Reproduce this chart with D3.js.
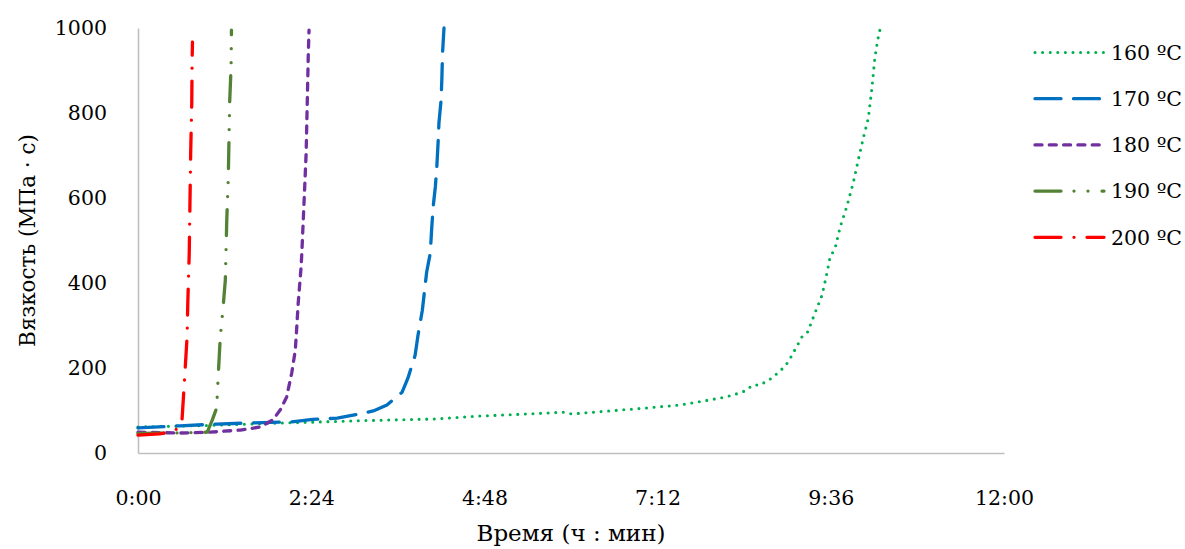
<!DOCTYPE html>
<html><head><meta charset="utf-8">
<script src="https://cdn.jsdelivr.net/npm/d3@7"></script>
<style>body{margin:0;background:#fff}svg text{font-family:"DejaVu Serif",serif;fill:#000}</style>
</head><body><svg id="c" width="1185" height="549"></svg>
<script>
// time in hours, viscosity in mPa·s
const seriesNames = ["160 ºC","170 ºC","180 ºC","190 ºC","200 ºC"];
const t160 = [0,1.0,2.1,3.08,4.09,4.74,5.29,5.78,5.89,6.01,6.54,7.05,7.51,7.79,8.06,8.24,8.41,8.52,8.62,8.76,8.90,9.01,9.10,9.20,9.28,9.38,9.48,9.55,9.59,9.66,9.73,9.82,9.91,9.98,10.05,10.12,10.17,10.21,10.25,10.28];
const v160 = [61,65,71,76,80,87,91,95,96,92,99,106,113,121,129,136,146,160,160,174,193,214,242,273,285,329,372,426,461,482,532,579,635,689,741,788,859,929,972,995];
const t170 = [0,0.58,1.09,1.59,2.11,2.42,2.76,2.98,3.26,3.45,3.66,3.74,3.84,3.88,3.94,4.00,4.05,4.07,4.09,4.12,4.14,4.16,4.17,4.20,4.21,4.22,4.24];
const v170 = [59,64,68,71,73,79,82,89,99,113,143,176,230,277,336,426,470,529,579,626,671,736,776,831,878,941,1000];
const t180 = [0,0.58,1.0,1.42,1.69,1.87,1.97,2.06,2.13,2.18,2.20,2.22,2.26,2.27,2.29,2.31,2.33,2.34,2.35,2.36,2.37];
const v180 = [49,47,49,54,61,78,101,132,188,242,296,353,438,470,548,626,706,784,861,941,995];
const t190 = [0,0.5,0.96,1.03,1.09,1.11,1.14,1.18,1.21,1.22,1.23,1.25,1.26,1.27,1.29,1.295];
const v190 = [46,47,49,78,106,176,273,344,407,478,548,642,729,824,909,995];
const t200 = [0,0.3,0.45,0.58,0.61,0.63,0.68,0.69,0.71,0.72,0.73,0.745,0.75,0.755];
const v200 = [42,45,49,60,78,132,273,353,470,588,706,824,925,967];
const xTicks = [0,2.4,4.8,7.2,9.6,12];
const yTicks = [0,200,400,600,800,1000];
const xTitle = "Время (ч : мин)";
const yTitle = "Вязкость (МПа · с)";

const colors = ["#00B050","#0070C0","#7030A0","#548235","#FF0000"];
const dashes = ["0,7.6","26,12.5","7,7.3","26,13,0,14,0,14","26,13,0,13"];
const widths = [3.1,3.3,3.3,3.3,3.3];
const data = [[t160,v160],[t170,v170],[t180,v180],[t190,v190],[t200,v200]].map(([t,v])=>t.map((d,i)=>[d,v[i]]));

const svg = d3.select("#c");
const L=138,R=1004,T=28,B=453;
const x = d3.scaleLinear().domain([0,12]).range([L,R]);
const y = d3.scaleLinear().domain([0,1000]).range([B,T]);
const fmt = h => { const m=Math.round(h*60); return Math.floor(m/60)+":"+String(m%60).padStart(2,"0"); };

const fs = "20.5px";
// axes
const xa = svg.append("g").attr("transform",`translate(0,${B})`)
  .call(d3.axisBottom(x).tickValues(xTicks).tickFormat(fmt).tickSize(0).tickPadding(52));
const ya = svg.append("g").attr("transform",`translate(${L},0)`)
  .call(d3.axisLeft(y).tickValues(yTicks).tickFormat(d3.format("d")).tickSize(0).tickPadding(31));
[xa,ya].forEach(a=>{
  a.select(".domain").attr("stroke","#BFBFBF").attr("stroke-width",1.6);
  a.selectAll("text").style("font-size",fs).style("font-family","DejaVu Serif").attr("fill","#000");
});
xa.selectAll("text").attr("dy","0");

const line = d3.line().x(d=>x(d[0])).y(d=>y(d[1]));
data.forEach((d,i)=>{
  svg.append("path").datum(d).attr("d",line).attr("fill","none")
    .attr("stroke",colors[i]).attr("stroke-width",widths[i])
    .attr("stroke-dasharray",dashes[i]).attr("stroke-linecap","round").attr("stroke-linejoin","round");
});

// titles
svg.append("text").attr("x",(L+R)/2).attr("y",541).attr("text-anchor","middle").style("font-size","23px").text(xTitle);
svg.append("text").attr("transform",`translate(35,${(T+B)/2}) rotate(-90)`).attr("text-anchor","middle").style("font-size","21.5px").text(yTitle);

// legend
const lg = svg.append("g");
seriesNames.forEach((n,i)=>{
  const yy = 52.5 + i*46.2;
  lg.append("line").attr("x1",1035).attr("x2",1104).attr("y1",yy).attr("y2",yy)
    .attr("stroke",colors[i]).attr("stroke-width",widths[i])
    .attr("stroke-dasharray",dashes[i]).attr("stroke-linecap","round");
  lg.append("text").attr("x",1111).attr("y",yy).attr("dy","0.36em").style("font-size",fs).text(n);
});
</script></body></html>
